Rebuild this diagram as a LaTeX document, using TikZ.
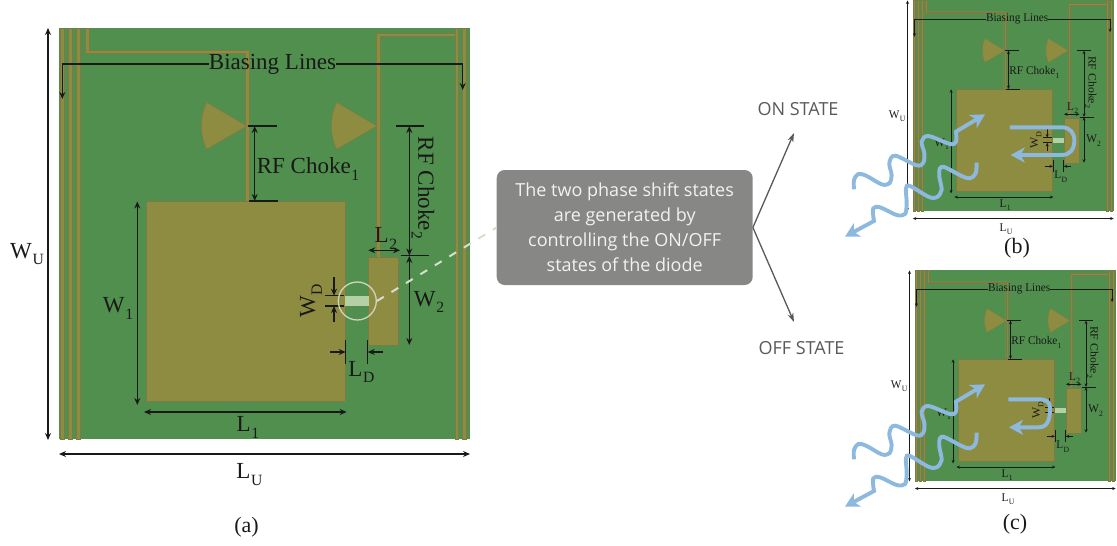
\documentclass[tikz,border=0pt]{standalone}
\usepackage{fontspec}
\setmainfont{Liberation Serif}
\newfontfamily\boxfont{Open Sans}
\usetikzlibrary{arrows.meta}
\definecolor{boardgreen}{HTML}{518F4E}
\definecolor{traceolive}{HTML}{8E8C41}
\definecolor{traceedge}{HTML}{7D7B45}
\definecolor{diodepale}{HTML}{B4D0A4}
\definecolor{ringpale}{HTML}{CDD6BC}
\definecolor{dashpale}{HTML}{D8DECF}
\definecolor{boxgrey}{HTML}{878885}
\definecolor{stategrey}{HTML}{58595B}
\definecolor{waveblue}{HTML}{8DB9DF}
\tikzset{
  tracebox/.style={fill=traceolive, draw=traceedge, line width=0.6pt},
  dimline/.style={black!90, line width=1.4pt, >={Stealth[length=7pt,width=6pt]}},
  cellsmall/.style={transform shape, tracebox/.style={fill=traceolive, draw=traceedge, line width=0.3pt}, dimline/.style={black!90, line width=0.7pt, >={Stealth[length=3.5pt,width=3pt]}}},
  celltext/.style={inner sep=0pt, text=black!90, font=\fontsize{23}{26}\selectfont},
  captiontext/.style={inner sep=0pt, text=black!90, font=\fontsize{22}{26}\selectfont},
  statetext/.style={inner sep=0pt, text=stategrey, font=\boxfont\fontsize{18}{20}\selectfont},
  infobox/.style={fill=boxgrey, rounded corners=8pt, minimum width=256pt, minimum height=115pt, align=center, text=white!95!black, font=\boxfont\fontsize{18}{25}\selectfont},
  statearrow/.style={stategrey, line width=1.3pt, -{Stealth[length=9pt,width=6pt]}},
  wavearrow/.style={waveblue, line width=3.9pt, -{Stealth[length=14pt,width=15pt,inset=4pt]}},
}
\newcommand{\lbl}[2]{#1\kern0.03em\raisebox{-0.3em}{\scalebox{0.68}{#2}}}
% one unit cell, in the pixel coordinates of the large one
\newcommand{\unitcell}[1]{
  \fill[boardgreen] (59,28) rectangle (470,439);
  \foreach \xa/\xb in {60/64.5, 68.3/72.3, 76.7/80.3, 455/458, 462.5/466}
    \draw[tracebox] (\xa,28) rectangle (\xb,439);
  % feed traces
  \draw[tracebox] (85,28) -- (85,53.3) -- (245,53.3) -- (245,201.5) -- (249,201.5) -- (249,50) -- (89,50) -- (89,28) -- cycle;
  \draw[tracebox] (376,258) -- (376,33.3) -- (455,33.3) -- (455,36.7) -- (380,36.7) -- (380,258) -- cycle;
  % radial stubs
  \foreach \dx in {0,130}
    \draw[tracebox, xshift=\dx pt] (247,126) -- (206.7,102.3) .. controls (199.5,117) and (199.5,135) .. (206.7,149.3) -- cycle;
  % patches and diode
  \draw[tracebox] (146.7,201.5) rectangle (345,401);
  \draw[tracebox] (368.7,257.5) rectangle (398.7,345);
  \fill[diodepale] (345,296) rectangle (368.7,306);
  % biasing lines
  \node[celltext] (#1bias) at (272.5,64) {Biasing Lines};
  \coordinate (#1biasleft) at (62.3,99);
  \coordinate (#1biasright) at (462.7,90);
  \draw[dimline, ->] (#1bias.west) -| (#1biasleft);
  \draw[dimline, ->] (#1bias.east) -| (#1biasright);
  % RF chokes
  \draw[dimline] (248,126) -- (277,126);
  \draw[dimline] (249,201) -- (278,201);
  \draw[dimline, <->] (254.7,126) -- (254.7,201);
  \node[celltext] (#1chokea) at (308,169) {\lbl{RF Choke}{1}};
  \draw[dimline] (395.7,126) -- (424,126);
  \draw[dimline] (400.7,255.5) -- (429,255.5);
  \draw[dimline, <->] (409.3,126) -- (409.3,255.5);
  \node[celltext, rotate=-90] (#1chokeb) at (423,188) {\lbl{RF Choke}{2}};
  % cell sizes
  \draw[dimline, <->] (48,28) -- (48,440);
  \node[celltext] (#1wu) at (27,254) {\lbl{W}{U}};
  \draw[dimline, <->] (59,454) -- (470,454);
  \node[celltext] (#1lu) at (249.5,474.5) {\lbl{L}{U}};
  \draw[dimline, <->] (137.3,201.5) -- (137.3,405);
  \node[celltext] (#1wa) at (118,308.5) {\lbl{W}{1}};
  \draw[dimline, <->] (144,412) -- (346.7,412);
  \node[celltext] (#1la) at (248,427.5) {\lbl{L}{1}};
  \draw[dimline, <->] (368.3,250.3) -- (400,250.3);
  \node[celltext] (#1lb) at (386,238.5) {\lbl{L}{2}};
  \draw[dimline, <->] (409.3,256) -- (409.3,345);
  \node[celltext] (#1wb) at (429,302) {\lbl{W}{2}};
  % diode sizes
  \draw[dimline] (325,295.7) -- (344,295.7);
  \draw[dimline] (325,306) -- (344,306);
  \draw[dimline, ->] (334,277) -- (334,295.7);
  \draw[dimline, ->] (334,322) -- (334,306);
  \node[celltext, rotate=90] (#1wd) at (311,301) {\lbl{W}{D}};
  \draw[dimline] (345.7,340) -- (345.7,364);
  \draw[dimline] (367.7,340) -- (367.7,364);
  \draw[dimline, ->] (330,352) -- (345.7,352);
  \draw[dimline, ->] (382.7,352) -- (367.7,352);
  \node[celltext] (#1ld) at (361.5,372) {\lbl{L}{D}};
}
% the two crossing waves, in zoomed pixels
\newcommand{\wavepair}{
  \draw[wavearrow] plot[smooth, tension=0.55] coordinates {(72,298) (72,270) (85,252) (110,258) (155,283) (178,280) (185,255) (178,220) (195,197) (260,226) (280,218) (283,190) (275,155) (295,138) (360,162) (378,155) (378,125)} -- (465,73);
  \draw[wavearrow] plot[smooth, tension=0.55] coordinates {(440,218) (437,250) (420,265) (395,258) (345,232) (330,235) (328,260) (335,300) (320,322) (295,320) (240,288) (228,295) (230,340) (225,372) (200,375) (150,352) (130,355) (130,380) (132,393)} -- (45,440);
}
\begin{document}
\begin{tikzpicture}[x=1pt, y=-1pt]
  \useasboundingbox (0,0) rectangle (1117,546);

  % large cell
  \unitcell{a}
  \node[circle, draw=ringpale, line width=1.3pt, minimum size=38pt, inner sep=0pt] (ring) at (357.3,301) {};
  \node[captiontext] (capa) at (246.5,527) {(a)};

  % explanation
  \node[infobox] (note) at (624.7,227.5) {The two phase shift states\\are generated by\\controlling the ON/OFF\\states of the diode};
  \draw[dashpale, line width=2pt, dash pattern=on 8pt off 9pt] (ring.east) -- (note.west);
  \node[statetext] (onstate) at (798,109) {ON STATE};
  \node[statetext] (offstate) at (801.5,348) {OFF STATE};
  \coordinate (ontip) at (794,133);
  \coordinate (offtip) at (794,322);
  \draw[statearrow] (note.east) -- (ontip);
  \draw[statearrow] (note.east) -- (offtip);

  % ON state
  \begin{scope}[shift={(884,-13.9)}, xscale=0.4887, yscale=0.512, cellsmall]
    \unitcell{b}
  \end{scope}
  \begin{scope}[shift={(830,90)}, scale=0.3333]
    \wavepair
    \draw[wavearrow] (540,112) -- (695,112) .. controls (722,112) and (733,130) .. (733,152) .. controls (733,178) and (720,195) .. (695,195) -- (542,195);
  \end{scope}
  \node[captiontext] (capb) at (1017,248) {(b)};

  % OFF state
  \begin{scope}[shift={(886,256.1)}, xscale=0.4887, yscale=0.512, cellsmall]
    \unitcell{c}
  \end{scope}
  \begin{scope}[shift={(830,360)}, scale=0.3333]
    \wavepair
    \draw[wavearrow] (535,118) -- (625,118) .. controls (650,118) and (660,125) .. (660,145) .. controls (660,185) and (650,202) .. (625,202) -- (537,202);
  \end{scope}
  \node[captiontext] (capc) at (1015,524) {(c)};
\end{tikzpicture}
\end{document}
